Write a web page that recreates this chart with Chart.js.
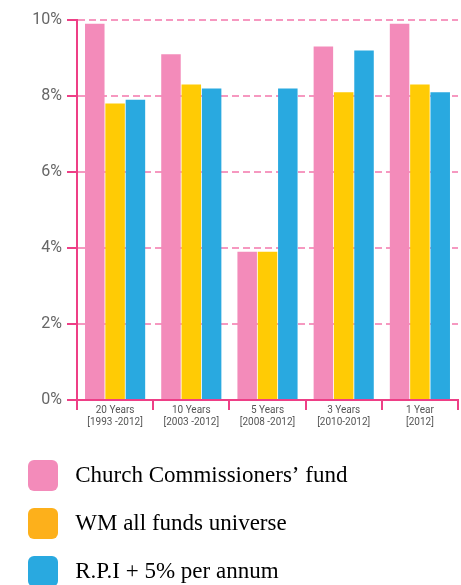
<!DOCTYPE html>
<html>
<head>
<meta charset="utf-8">
<script src="https://cdn.jsdelivr.net/npm/chart.js"></script>
<style>
  html, body { margin: 0; padding: 0; background: #fff; overflow: hidden; }
  #wrap { position: relative; width: 461px; height: 597px; }
</style>
</head>
<body>
<div id="wrap"><canvas id="returnsChart"></canvas></div>
<script>
// Returns by period, in percent
const periods = [
    ['20 Years', '[1993 -2012]'],
    ['10 Years', '[2003 -2012]'],
    ['5 Years', '[2008 -2012]'],
    ['3 Years', '[2010-2012]'],
    ['1 Year', '[2012]']
];
const churchFund = [9.9, 9.1, 3.9, 9.3, 9.9];
const wmUniverse = [7.8, 8.3, 3.9, 8.1, 8.3];
const rpiPlus5 = [7.9, 8.2, 8.2, 9.2, 8.1];
const yTicks = [0, 2, 4, 6, 8, 10];

const seriesNames = ['Church Commissioners\u2019 fund', 'WM all funds universe', 'R.P.I + 5% per annum'];
const barColors = ['#f38bba', '#ffcb05', '#29a9e0'];
const legendColors = ['#f38bba', '#fdb01b', '#29a9e0'];
const pink = '#ee3f86';

document.addEventListener('DOMContentLoaded', function() {
    const ctx = document.getElementById('returnsChart').getContext('2d');

    const chart = new Chart(ctx, {
        type: 'bar',
        data: {
            labels: periods,
            datasets: [churchFund, wmUniverse, rpiPlus5].map(function(values, i) {
                return {
                    label: seriesNames[i],
                    data: values,
                    backgroundColor: barColors[i],
                    borderWidth: 0,
                    barPercentage: 0.96,
                    categoryPercentage: 0.8
                };
            })
        },
        options: {
            responsive: true,
            maintainAspectRatio: false,
            animation: false,
            layout: {
                padding: { left: 11, right: 3, top: 20, bottom: 0 }
            },
            scales: {
                x: {
                    afterFit: function(scale) {
                        scale.height = 43;
                    },
                    grid: {
                        offset: true,
                        drawOnChartArea: false,
                        color: pink,
                        lineWidth: 2,
                        tickLength: 10
                    },
                    border: { color: pink, width: 2 },
                    ticks: {
                        color: '#555',
                        font: { family: 'Roboto', size: 10 },
                        padding: -6,
                        maxRotation: 0,
                        autoSkip: false
                    }
                },
                y: {
                    min: 0,
                    max: 10,
                    z: 1,
                    afterFit: function(scale) {
                        scale.width = 66;
                    },
                    afterBuildTicks: function(scale) {
                        scale.ticks = yTicks.map(function(v) { return { value: v }; });
                    },
                    grid: {
                        color: 'rgba(238, 50, 130, 0.5)',
                        lineWidth: 2,
                        tickLength: 10,
                        tickColor: pink,
                        tickWidth: 2,
                        tickBorderDash: []
                    },
                    border: { color: pink, width: 2, dash: [7, 4] },
                    ticks: {
                        color: '#666',
                        font: { family: 'Roboto', size: 16 },
                        padding: 5,
                        callback: function(value) {
                            return value + '%';
                        }
                    }
                }
            },
            plugins: {
                legend: {
                    position: 'bottom',
                    align: 'start',
                    labels: {
                        boxWidth: 30,
                        boxHeight: 31,
                        useBorderRadius: true,
                        borderRadius: 6,
                        padding: 17,
                        color: '#555',
                        font: { family: 'Liberation Serif', size: 23 },
                        generateLabels: function(chart) {
                            return seriesNames.map(function(name, i) {
                                return {
                                    text: ' ' + name,
                                    fillStyle: legendColors[i],
                                    strokeStyle: legendColors[i],
                                    lineWidth: 0,
                                    datasetIndex: i,
                                    borderRadius: 6
                                };
                            });
                        }
                    }
                },
                tooltip: { enabled: false }
            }
        }
    });
});
</script>
</body>
</html>
